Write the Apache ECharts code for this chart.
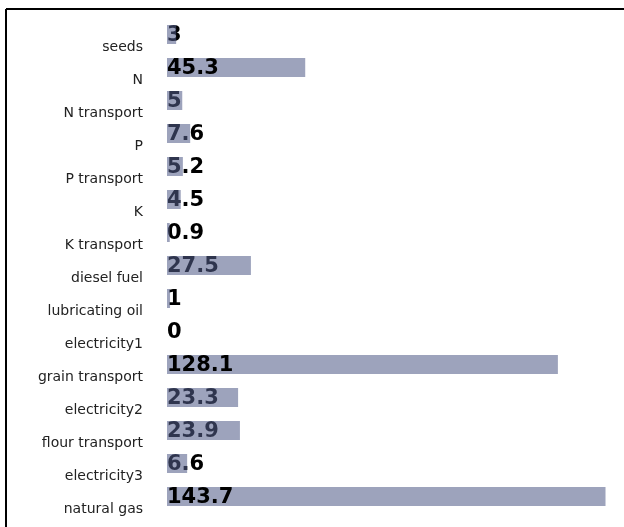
<!DOCTYPE html>
<html>
    <head>
        <meta charset="utf-8">
        <script src="https://cdn.jsdelivr.net/npm/echarts@6/dist/echarts.min.js"></script>
        <style>
            html, body { margin: 0; padding: 0; background: #fff; }
            #main { width: 624px; height: 527px; }
        </style>
    </head>
    <body>
        <div id="main"></div>
        <script>
        var categories = ['seeds', 'N', 'N transport', 'P', 'P transport', 'K', 'K transport',
            'diesel fuel', 'lubricating oil', 'electricity1', 'grain transport', 'electricity2',
            'flour transport', 'electricity3', 'natural gas'];
        var values = [3, 45.3, 5, 7.6, 5.2, 4.5, 0.9, 27.5, 1, 0, 128.1, 23.3, 23.9, 6.6, 143.7];
        // rows whose value label is painted above the bar instead of under it
        var labelOnTop = ['N', 'grain transport', 'natural gas'];

        var chart = echarts.init(document.getElementById('main'));

        var labelStyle = {
            show: true,
            position: 'insideLeft',
            distance: 0,
            offset: [0, 1],
            color: '#000',
            fontFamily: 'DejaVu Sans',
            fontWeight: 'bold',
            fontSize: 21,
            formatter: function (p) { return String(p.value); }
        };

        function labelData(onTop) {
            return values.map(function (v, i) {
                var top = labelOnTop.indexOf(categories[i]) >= 0;
                return { value: v, label: { show: top === onTop } };
            });
        }

        chart.setOption({
            animation: false,
            grid: { left: 167, right: 18.5, top: 18, bottom: 14, containLabel: false },
            xAxis: { type: 'value', min: 0, max: 'dataMax', show: false },
            yAxis: {
                type: 'category',
                inverse: true,
                data: categories,
                axisLine: { show: false },
                axisTick: { show: false },
                splitLine: { show: false },
                axisLabel: {
                    margin: 24,
                    verticalAlign: 'top',
                    lineHeight: 26,
                    color: '#222',
                    fontFamily: 'DejaVu Sans',
                    fontSize: 14
                }
            },
            graphic: [
                { type: 'line', silent: true, shape: { x1: 6, y1: 9, x2: 624, y2: 9 }, style: { stroke: '#000', lineWidth: 2 } },
                { type: 'line', silent: true, shape: { x1: 6, y1: 9, x2: 6, y2: 527 }, style: { stroke: '#000', lineWidth: 2 } }
            ],
            series: [
                {
                    name: 'under',
                    type: 'bar',
                    z: 1,
                    silent: true,
                    barWidth: 19,
                    barGap: '-100%',
                    itemStyle: { color: 'rgba(0,0,0,0)' },
                    label: labelStyle,
                    data: labelData(false)
                },
                {
                    name: 'bars',
                    type: 'bar',
                    z: 2,
                    silent: true,
                    barWidth: 19,
                    barGap: '-100%',
                    itemStyle: { color: 'rgba(82,93,137,0.57)' },
                    data: values
                },
                {
                    name: 'over',
                    type: 'bar',
                    z: 3,
                    silent: true,
                    barWidth: 19,
                    barGap: '-100%',
                    itemStyle: { color: 'rgba(0,0,0,0)' },
                    label: labelStyle,
                    data: labelData(true)
                }
            ]
        });
        </script>
    </body>
</html>
